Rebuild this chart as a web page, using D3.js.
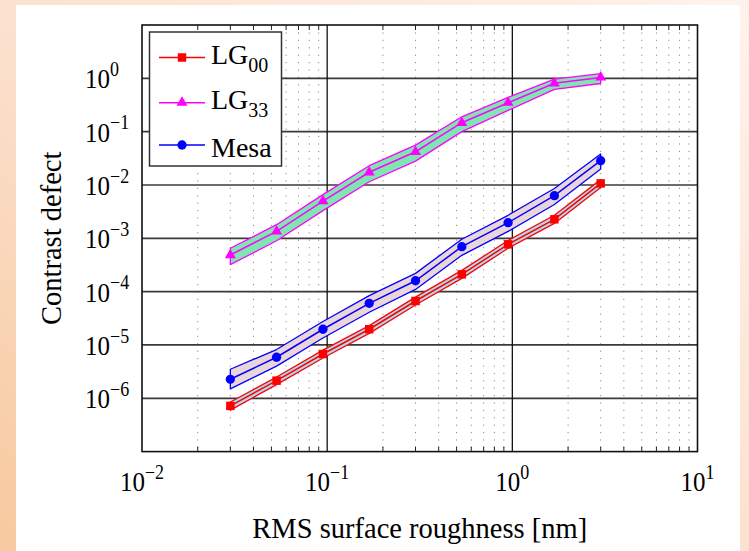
<!DOCTYPE html>
<html>
<head>
<meta charset="utf-8">
<script src="https://cdn.jsdelivr.net/npm/d3@7"></script>
<style>
  html, body { margin: 0; padding: 0; background: #fff; }
  svg { display: block; }
  text { font-family: "Liberation Serif", "DejaVu Serif", serif; fill: #000; }
</style>
</head>
<body>
<svg id="chart" width="749" height="551"></svg>
<script>
// ---------------- data ----------------
const roughness = [0.03, 0.0533, 0.0949, 0.1687, 0.3, 0.5335, 0.9487, 1.687, 3.0];

const lg00      = [7.2e-7, 2.14e-6, 6.76e-6, 1.97e-5, 6.67e-5, 2.11e-4, 7.7e-4, 2.27e-3, 1.07e-2];
const lg00Upper = [8.5e-7, 2.5e-6, 8.0e-6, 2.3e-5, 7.9e-5, 2.5e-4, 9.1e-4, 2.7e-3, 1.26e-2];
const lg00Lower = [6.0e-7, 1.8e-6, 5.7e-6, 1.65e-5, 5.6e-5, 1.77e-4, 6.5e-4, 1.9e-3, 9.0e-3];

const lg33      = [4.86e-4, 1.35e-3, 4.98e-3, 1.73e-2, 4.2e-2, 0.147, 0.349, 0.806, 1.04];
const lg33Upper = [6.5e-4, 1.8e-3, 6.6e-3, 2.3e-2, 5.6e-2, 0.19, 0.44, 0.97, 1.22];
const lg33Lower = [3.2e-4, 9.0e-4, 3.3e-3, 1.15e-2, 2.8e-2, 0.10, 0.25, 0.62, 0.80];

const mesa      = [2.27e-6, 5.88e-6, 1.97e-5, 6.04e-5, 1.6e-4, 6.96e-4, 1.96e-3, 6.29e-3, 2.85e-2];
const mesaUpper = [3.5e-6, 8.2e-6, 2.75e-5, 8.4e-5, 2.2e-4, 9.6e-4, 2.7e-3, 8.6e-3, 3.8e-2];
const mesaLower = [1.5e-6, 4.0e-6, 1.35e-5, 4.1e-5, 1.1e-4, 4.8e-4, 1.35e-3, 4.3e-3, 2.0e-2];

const xTickExponents = [-2, -1, 0, 1];
const yTickExponents = [-6, -5, -4, -3, -2, -1, 0];
const xLabel = "RMS surface roughness [nm]";
const yLabel = "Contrast defect";
const seriesNames = ["00", "33", "Mesa"];

// ---------------- layout ----------------
const svg = d3.select("#chart");
const W = 749, H = 551;
const L = 142, R = 697.5, T = 25, B = 451.6;

const x = d3.scaleLog().domain([1e-2, 1e1]).range([L, R]);
const y = d3.scaleLog().domain([1e-7, 1e1]).range([B, T]);

// background frame
const defs = svg.append("defs");
const grad = defs.append("linearGradient").attr("id", "bg")
  .attr("x1", "100%").attr("y1", "0%").attr("x2", "0%").attr("y2", "100%");
grad.append("stop").attr("offset", "0%").attr("stop-color", "#fef3ec");
grad.append("stop").attr("offset", "55%").attr("stop-color", "#fbe0cc");
grad.append("stop").attr("offset", "100%").attr("stop-color", "#f7c99e");
svg.append("rect").attr("width", W).attr("height", H).attr("fill", "url(#bg)");
svg.append("rect").attr("x", 16).attr("y", 5).attr("width", 724).attr("height", H - 5).attr("fill", "#fff");

const plot = svg.append("g");

// minor x grid (dotted)
const minorX = [];
[-2, -1, 0].forEach(e => { for (let k = 2; k <= 9; k++) minorX.push(k * Math.pow(10, e)); });
plot.append("g").selectAll("line").data(minorX).join("line")
  .attr("x1", d => x(d)).attr("x2", d => x(d))
  .attr("y1", T).attr("y2", B)
  .attr("stroke", "#8a8a8a").attr("stroke-width", 1)
  .attr("stroke-dasharray", "1.2,6.2");

// minor x ticks on bottom/top
plot.append("g").selectAll("line").data(minorX).join("line")
  .attr("x1", d => x(d)).attr("x2", d => x(d))
  .attr("y1", B).attr("y2", B - 5)
  .attr("stroke", "#222").attr("stroke-width", 1);
plot.append("g").selectAll("line").data(minorX).join("line")
  .attr("x1", d => x(d)).attr("x2", d => x(d))
  .attr("y1", T).attr("y2", T + 5)
  .attr("stroke", "#222").attr("stroke-width", 1);

// major horizontal grid
plot.append("g").selectAll("line").data(yTickExponents).join("line")
  .attr("x1", L).attr("x2", R)
  .attr("y1", d => y(Math.pow(10, d))).attr("y2", d => y(Math.pow(10, d)))
  .attr("stroke", "#3a3a3a").attr("stroke-width", 1.7);

// major vertical grid
plot.append("g").selectAll("line").data([-1, 0]).join("line")
  .attr("x1", d => x(Math.pow(10, d))).attr("x2", d => x(Math.pow(10, d)))
  .attr("y1", T).attr("y2", B)
  .attr("stroke", "#111").attr("stroke-width", 1.3);

// series
const series = [
  { name: "00", v: lg00, up: lg00Upper, lo: lg00Lower, color: "#ff0000", fill: "#a9dcee", symbol: d3.symbolSquare, size: 72 },
  { name: "Mesa", v: mesa, up: mesaUpper, lo: mesaLower, color: "#0000ff", fill: "#ead6d8", symbol: d3.symbolCircle, size: 68 },
  { name: "33", v: lg33, up: lg33Upper, lo: lg33Lower, color: "#ff00ff", fill: "#7fe6b2", symbol: d3.symbolTriangle, size: 52 }
];

const area = d3.area()
  .x((d, i) => x(roughness[i]))
  .y0(d => y(d[0])).y1(d => y(d[1]));
const line = d3.line().x((d, i) => x(roughness[i])).y(d => y(d));

series.forEach(s => {
  const g = plot.append("g");
  const pairs = s.up.map((u, i) => [s.lo[i], u]);
  g.append("path").datum(pairs).attr("d", area)
    .attr("fill", s.fill).attr("stroke", s.color).attr("stroke-width", 1.3)
    .attr("stroke-linejoin", "round");
  g.append("path").datum(s.v).attr("d", line)
    .attr("fill", "none").attr("stroke", s.color).attr("stroke-width", 1.5);
  g.selectAll("path.m").data(s.v).join("path").attr("class", "m")
    .attr("transform", (d, i) => `translate(${x(roughness[i])},${y(d)})`)
    .attr("d", d3.symbol().type(s.symbol).size(s.size))
    .attr("fill", s.color);
});

// box frame
plot.append("rect").attr("x", L).attr("y", T).attr("width", R - L).attr("height", B - T)
  .attr("fill", "none").attr("stroke", "#111").attr("stroke-width", 1.6);

// x tick labels
const xt = svg.append("g");
xTickExponents.forEach(e => {
  const t = xt.append("text")
    .attr("transform", `translate(${x(Math.pow(10, e))},491) scale(1,1.12)`)
    .attr("text-anchor", "middle").attr("font-size", 25);
  t.append("tspan").text("10");
  t.append("tspan").attr("font-size", 18).attr("dy", -11).text(String(e).replace("-", "\u2212"));
});

// y tick labels
const yt = svg.append("g");
yTickExponents.forEach(e => {
  const t = yt.append("text")
    .attr("transform", `translate(85,${y(Math.pow(10, e)) + 10}) scale(1,1.12)`)
    .attr("text-anchor", "start").attr("font-size", 25);
  t.append("tspan").text("10");
  t.append("tspan").attr("font-size", 18).attr("dy", -11).text(String(e).replace("-", "\u2212"));
});

// axis labels
svg.append("text").attr("x", (L + R) / 2).attr("y", 538)
  .attr("text-anchor", "middle").attr("font-size", 28.5).text(xLabel);
svg.append("text").attr("transform", `translate(61,${(T + B) / 2}) rotate(-90)`)
  .attr("text-anchor", "middle").attr("font-size", 28.5).text(yLabel);

// legend
const lg = svg.append("g");
lg.append("rect").attr("x", 149.5).attr("y", 32).attr("width", 132).attr("height", 134)
  .attr("fill", "#fff").attr("stroke", "#333").attr("stroke-width", 1.5);
const legendItems = [
  { s: series[0], ly: 57.5, base: 63.5, sub: true, label: seriesNames[0] },
  { s: series[2], ly: 102.7, base: 108.5, sub: true, label: seriesNames[1] },
  { s: series[1], ly: 145, base: 156.5, sub: false, label: seriesNames[2] }
];
legendItems.forEach(it => {
  lg.append("line").attr("x1", 159).attr("x2", 205).attr("y1", it.ly).attr("y2", it.ly)
    .attr("stroke", it.s.color).attr("stroke-width", 1.5);
  lg.append("path").attr("transform", `translate(182,${it.ly})`)
    .attr("d", d3.symbol().type(it.s.symbol).size(it.s.size)).attr("fill", it.s.color);
  const t = lg.append("text").attr("x", 211).attr("y", it.base).attr("font-size", 28);
  if (it.sub) {
    t.append("tspan").text("LG");
    t.append("tspan").attr("font-size", 20).attr("dy", 8).text(it.label);
  } else {
    t.text(it.label);
  }
});
</script>
</body>
</html>
